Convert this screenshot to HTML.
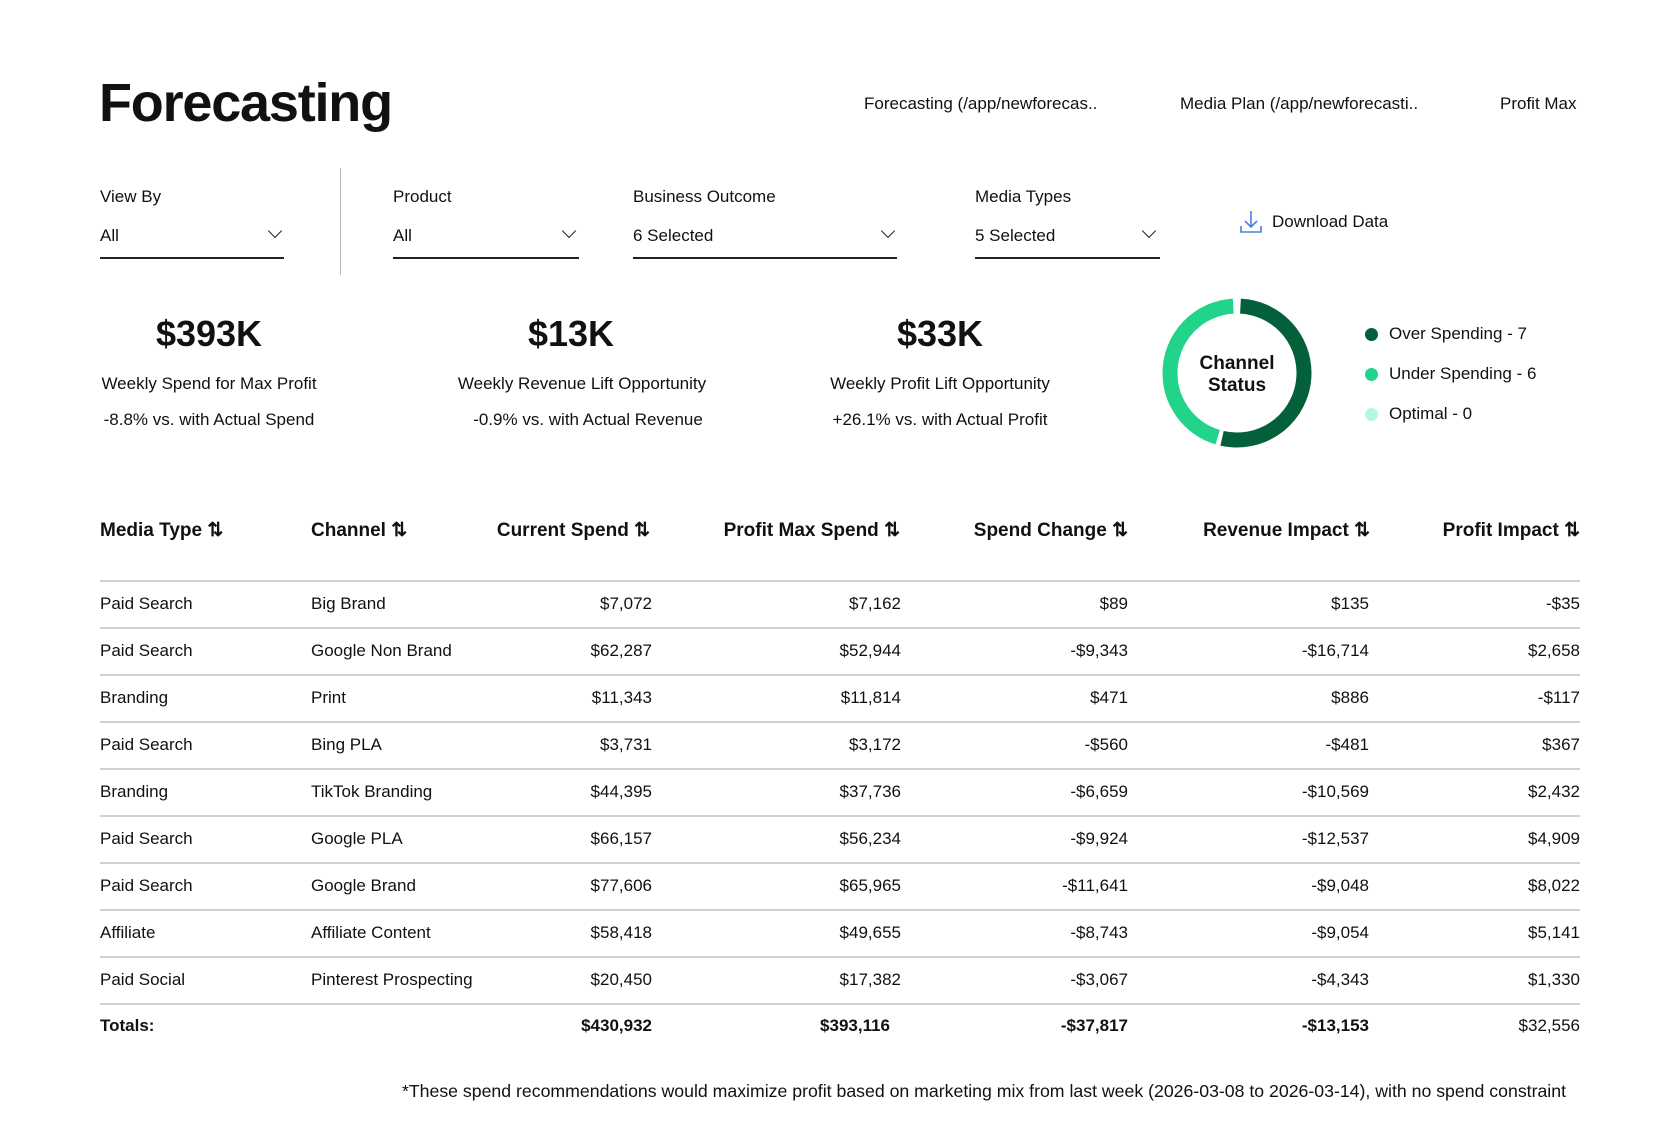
<!DOCTYPE html>
<html><head><meta charset="utf-8"><style>
body{margin:0;width:1680px;height:1140px;background:#fff;font-family:"Liberation Sans",sans-serif;color:#111;position:relative;overflow:hidden}
.a{position:absolute;white-space:nowrap}
.t{font-size:17px;line-height:20px}
.ul{position:absolute;height:2px;background:#222}
.chev{position:absolute;width:9px;height:9px;border-right:1.6px solid #222;border-bottom:1.6px solid #222;transform:rotate(45deg)}
.k{font-size:36px;font-weight:bold;transform:translateX(-50%);}
.c{transform:translateX(-50%)}
.h{font-size:19px;font-weight:bold}
.r{text-align:right;transform:translateX(-100%)}
.line{position:absolute;left:100px;width:1480px;height:1.5px;background:#d0d0d0}
.dot{position:absolute;width:13px;height:13px;border-radius:50%}
</style></head><body>
<div class="a" style="left:99px;top:72px;font-size:54px;font-weight:bold;letter-spacing:-1.2px">Forecasting</div>
<div class="a t" style="left:864px;top:94px">Forecasting (/app/newforecas..</div>
<div class="a t" style="left:1180px;top:94px">Media Plan (/app/newforecasti..</div>
<div class="a t" style="left:1500px;top:94px">Profit Max</div>

<div class="a t" style="left:100px;top:187px">View By</div>
<div class="a t" style="left:100px;top:226px">All</div>
<div class="chev" style="left:270px;top:226px"></div>
<div class="ul" style="left:100px;top:257px;width:184px"></div>
<div style="position:absolute;left:340px;top:168px;width:1px;height:107px;background:#bbb"></div>
<div class="a t" style="left:393px;top:187px">Product</div>
<div class="a t" style="left:393px;top:226px">All</div>
<div class="chev" style="left:564px;top:226px"></div>
<div class="ul" style="left:393px;top:257px;width:186px"></div>
<div class="a t" style="left:633px;top:187px">Business Outcome</div>
<div class="a t" style="left:633px;top:226px">6 Selected</div>
<div class="chev" style="left:883px;top:226px"></div>
<div class="ul" style="left:633px;top:257px;width:264px"></div>
<div class="a t" style="left:975px;top:187px">Media Types</div>
<div class="a t" style="left:975px;top:226px">5 Selected</div>
<div class="chev" style="left:1144px;top:226px"></div>
<div class="ul" style="left:975px;top:257px;width:185px"></div>
<svg class="a" style="left:1240px;top:210px" width="22" height="24" viewBox="0 0 22 24"><path d="M11 1v15M5 11l6 6 6-6M1 16v6h20v-6" fill="none" stroke="#4a7fe0" stroke-width="1.6"/></svg>
<div class="a t" style="left:1272px;top:212px">Download Data</div>

<div class="a k" style="left:209px;top:313px">$393K</div>
<div class="a k" style="left:571px;top:313px">$13K</div>
<div class="a k" style="left:940px;top:313px">$33K</div>
<div class="a t c" style="left:209px;top:374px">Weekly Spend for Max Profit</div>
<div class="a t c" style="left:582px;top:374px">Weekly Revenue Lift Opportunity</div>
<div class="a t c" style="left:940px;top:374px">Weekly Profit Lift Opportunity</div>
<div class="a t c" style="left:209px;top:410px">-8.8% vs. with Actual Spend</div>
<div class="a t c" style="left:588px;top:410px">-0.9% vs. with Actual Revenue</div>
<div class="a t c" style="left:940px;top:410px">+26.1% vs. with Actual Profit</div>

<svg class="a" style="left:1160px;top:296px" width="154" height="154" viewBox="0 0 154 154">
<g transform="rotate(-90 77 77)">
<circle cx="77" cy="77" r="67" fill="none" stroke="#03603a" stroke-width="15" stroke-dasharray="222 199" stroke-dashoffset="-3.5"/>
<circle cx="77" cy="77" r="67" fill="none" stroke="#22d38a" stroke-width="15" stroke-dasharray="187 234" stroke-dashoffset="-230"/>
</g></svg>
<div class="a c" style="left:1237px;top:353px;font-size:19px;font-weight:bold;text-align:center;line-height:22px">Channel<br>Status</div>
<div class="dot" style="left:1365px;top:328px;background:#03603a"></div>
<div class="dot" style="left:1365px;top:368px;background:#22d38a"></div>
<div class="dot" style="left:1365px;top:408px;background:#b6f7dd"></div>
<div class="a t" style="left:1389px;top:324px">Over Spending - 7</div>
<div class="a t" style="left:1389px;top:364px">Under Spending - 6</div>
<div class="a t" style="left:1389px;top:404px">Optimal - 0</div>

<div class="a h" style="left:100px;top:519px">Media Type ⇅</div>
<div class="a h" style="left:311px;top:519px">Channel ⇅</div>
<div class="a h r" style="left:650px;top:519px">Current Spend ⇅</div>
<div class="a h r" style="left:900px;top:519px">Profit Max Spend ⇅</div>
<div class="a h r" style="left:1128px;top:519px">Spend Change ⇅</div>
<div class="a h r" style="left:1370px;top:519px">Revenue Impact ⇅</div>
<div class="a h r" style="left:1580px;top:519px">Profit Impact ⇅</div>
<div class="line" style="top:580px"></div>
<div id="rows"></div>
<div class="a" style="right:114px;top:1081px;font-size:17.7px">*These spend recommendations would maximize profit based on marketing mix from last week (2026-03-08 to 2026-03-14), with no spend constraint</div>
<script>
var d=[["Paid Search","Big Brand","$7,072","$7,162","$89","$135","-$35"],
["Paid Search","Google Non Brand","$62,287","$52,944","-$9,343","-$16,714","$2,658"],
["Branding","Print","$11,343","$11,814","$471","$886","-$117"],
["Paid Search","Bing PLA","$3,731","$3,172","-$560","-$481","$367"],
["Branding","TikTok Branding","$44,395","$37,736","-$6,659","-$10,569","$2,432"],
["Paid Search","Google PLA","$66,157","$56,234","-$9,924","-$12,537","$4,909"],
["Paid Search","Google Brand","$77,606","$65,965","-$11,641","-$9,048","$8,022"],
["Affiliate","Affiliate Content","$58,418","$49,655","-$8,743","-$9,054","$5,141"],
["Paid Social","Pinterest Prospecting","$20,450","$17,382","-$3,067","-$4,343","$1,330"]];
var xs=[100,311,652,901,1128,1369,1580],h="";
d.forEach(function(r,i){var y=594+i*47;
r.forEach(function(v,j){h+='<div class="a t'+(j>1?' r':'')+'" style="left:'+xs[j]+'px;top:'+y+'px">'+v+'</div>';});
h+='<div class="line" style="top:'+(y+33)+'px"></div>';});
var y=1016;
h+='<div class="a t" style="left:100px;top:'+y+'px;font-weight:bold">Totals:</div>';
var tt=["$430,932","$393,116","-$37,817","-$13,153","$32,556"],tx=[652,890,1128,1369,1580];
tt.forEach(function(v,j){h+='<div class="a t r" style="left:'+tx[j]+'px;top:'+y+'px;'+(j<4?'font-weight:bold':'')+'">'+v+'</div>';});
document.getElementById('rows').innerHTML=h;
</script>
</body></html>
